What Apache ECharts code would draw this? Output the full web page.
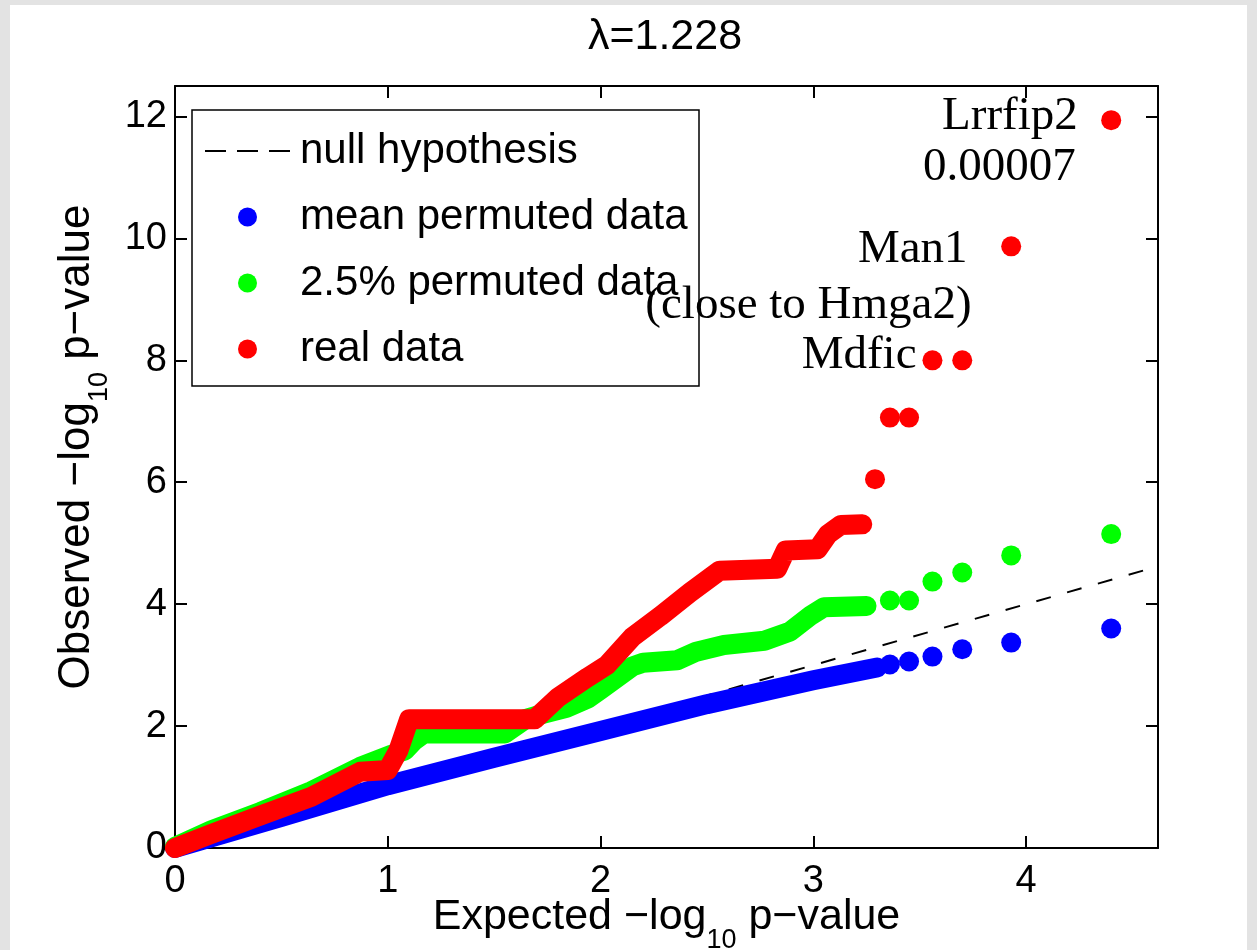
<!DOCTYPE html>
<html>
<head>
<meta charset="utf-8">
<title>QQ plot</title>
<script src="https://cdn.jsdelivr.net/npm/echarts@6/dist/echarts.min.js"></script>
<style>
  html, body { margin: 0; padding: 0; background: #e3e3e3; }
  .frame { position: absolute; left: 10px; top: 5px; width: 1237px; height: 945px; background: #fff; }
  #chart { position: absolute; left: 0; top: 0; width: 1257px; height: 950px; }
</style>
</head>
<body>
<div class="frame"></div>
<div id="chart"></div>
<script>
// values (expected vs observed -log10 p)
var nullX = [0, 4.62];
var nullY = [0, 4.62];

// mean permuted data: dense part, then single points
var meanBandX = [0, 0.5, 1.0, 1.5, 2.0, 2.5, 3.0, 3.3];
var meanBandY = [0, 0.51, 1.03, 1.48, 1.92, 2.36, 2.75, 2.96];
var meanDotX = [3.36, 3.45, 3.56, 3.70, 3.93, 4.40];
var meanDotY = [3.01, 3.06, 3.14, 3.26, 3.37, 3.60];

// 2.5% permuted data
var lowBandX = [0, 0.17, 0.40, 0.64, 0.87, 1.01, 1.08, 1.12, 1.17, 1.55, 1.65, 1.73, 1.84, 1.94, 2.0, 2.15, 2.2, 2.36, 2.45, 2.58, 2.77, 2.89, 2.99, 3.05, 3.25];
var lowBandY = [0.02, 0.29, 0.59, 0.93, 1.33, 1.52, 1.6, 1.75, 1.88, 1.88, 2.12, 2.2, 2.3, 2.45, 2.6, 2.98, 3.04, 3.08, 3.22, 3.33, 3.4, 3.55, 3.82, 3.95, 3.97];
var lowDotX = [3.36, 3.45, 3.56, 3.70, 3.93, 4.40];
var lowDotY = [4.06, 4.06, 4.37, 4.52, 4.80, 5.15];

// real data
var realBandX = [0, 0.17, 0.40, 0.64, 0.87, 1.0, 1.05, 1.10, 1.69, 1.80, 1.94, 2.03, 2.15, 2.28, 2.42, 2.56, 2.83, 2.87, 3.02, 3.07, 3.13, 3.23];
var realBandY = [0, 0.23, 0.53, 0.84, 1.25, 1.28, 1.6, 2.11, 2.11, 2.47, 2.8, 3.0, 3.46, 3.8, 4.19, 4.55, 4.58, 4.88, 4.9, 5.15, 5.3, 5.31];
var realDotX = [3.29, 3.36, 3.45, 3.56, 3.70, 3.93, 4.40];
var realDotY = [6.05, 7.06, 7.06, 8.0, 8.0, 9.87, 11.94];

// gene notes (right end of text, middle)
var noteText = ["Lrrfip2", "0.00007", "Man1", "(close to Hmga2)", "Mdfic"];
var noteX = [4.243, 4.233, 3.725, 3.744, 3.485];
var noteY = [12.0, 11.16, 9.82, 8.9, 8.07];

var sans = "Liberation Sans, Arial, sans-serif";
var serif = "Liberation Serif, Times New Roman, serif";

function pairs(xs, ys) {
  return xs.map(function (x, i) { return [x, ys[i]]; });
}

function band(name, color, xs, ys) {
  return {
    name: name, type: "line", data: pairs(xs, ys), symbol: "none",
    itemStyle: { color: color },
    lineStyle: { color: color, width: 20, cap: "round", join: "round", opacity: 1 }
  };
}

function dots(name, color, xs, ys) {
  return {
    name: name, type: "scatter", data: pairs(xs, ys), symbolSize: 20,
    itemStyle: { color: color, opacity: 1 }
  };
}

var nameRich = {
  sub: { fontSize: 27, lineHeight: 27, padding: [46, 0, 0, 0], fontFamily: sans, color: "#000" }
};

var lineBlack = { color: "#000", width: 2 };

var chart = echarts.init(document.getElementById("chart"));

chart.setOption({
  animation: false,
  title: {
    text: "\u03bb=1.228",
    left: 665, top: 16, textAlign: "center", padding: 0,
    textStyle: { fontSize: 43, lineHeight: 43, fontWeight: "normal", color: "#000", fontFamily: sans }
  },
  grid: { left: 175, top: 86, right: 99, bottom: 102, containLabel: false, outerBoundsMode: "none" },
  graphic: [
    {
      type: "rect", z: 1,
      shape: { x: 192, y: 110, width: 507, height: 276 },
      style: { fill: "#fff", stroke: "#000", lineWidth: 1.5 }
    }
  ],
  legend: {
    data: [
      { name: "null hypothesis", icon: "path://M0,0h21v2h-21z M32,0h21v2h-21z M64,0h21v2h-21z" },
      { name: "mean permuted data", icon: "circle" },
      { name: "2.5% permuted data", icon: "circle" },
      { name: "real data", icon: "circle" }
    ],
    orient: "vertical", left: 205, top: 128, padding: 0,
    itemWidth: 85, itemHeight: 19, itemGap: 20,
    selectedMode: false, symbolKeepAspect: true,
    textStyle: { fontSize: 42, lineHeight: 46, fontFamily: sans, color: "#000", padding: [0, 0, 0, 5] }
  },
  xAxis: [
    {
      type: "value", min: 0, max: 4.62, interval: 1, position: "bottom",
      axisLine: { onZero: false, lineStyle: lineBlack },
      axisTick: { inside: true, length: 12, lineStyle: lineBlack },
      axisLabel: {
        color: "#000", fontSize: 38, fontFamily: sans, margin: 15,
        formatter: function (v) { return v % 1 === 0 ? String(v) : ""; }
      },
      splitLine: { show: false },
      name: "Expected \u2212log{sub|10} p\u2212value",
      nameLocation: "middle", nameGap: 48, nameMoveOverlap: false,
      nameTextStyle: { color: "#000", fontSize: 43, lineHeight: 43, fontFamily: sans, rich: nameRich }
    },
    {
      type: "value", min: 0, max: 4.62, interval: 1, position: "top",
      axisLine: { onZero: false, lineStyle: lineBlack },
      axisTick: { inside: true, length: 12, lineStyle: lineBlack },
      axisLabel: { show: false },
      splitLine: { show: false }
    }
  ],
  yAxis: [
    {
      type: "value", min: 0, max: 12.5, interval: 2, position: "left",
      axisLine: { show: true, onZero: false, lineStyle: lineBlack },
      axisTick: { show: true, inside: true, length: 12, lineStyle: lineBlack },
      axisLabel: {
        color: "#000", fontSize: 38, fontFamily: sans, margin: 8,
        formatter: function (v) { return v % 2 === 0 ? String(v) : ""; }
      },
      splitLine: { show: false },
      name: "Observed \u2212log{sub|10} p\u2212value",
      nameLocation: "middle", nameGap: 76, nameMoveOverlap: false,
      nameTextStyle: { color: "#000", fontSize: 44, lineHeight: 44, fontFamily: sans, padding: [0, 0, 0, 40], rich: nameRich }
    },
    {
      type: "value", min: 0, max: 12.5, interval: 2, position: "right",
      axisLine: { show: true, onZero: false, lineStyle: lineBlack },
      axisTick: { show: true, inside: true, length: 12, lineStyle: lineBlack },
      axisLabel: { show: false },
      splitLine: { show: false }
    }
  ],
  series: [
    {
      name: "null hypothesis", type: "line", data: pairs(nullX, nullY), symbol: "none",
      itemStyle: { color: "#000" },
      lineStyle: { color: "#000", width: 2, type: [15, 17] }
    },
    band("mean permuted data", "#0000ff", meanBandX, meanBandY),
    dots("mean permuted data", "#0000ff", meanDotX, meanDotY),
    band("2.5% permuted data", "#00ff00", lowBandX, lowBandY),
    dots("2.5% permuted data", "#00ff00", lowDotX, lowDotY),
    band("real data", "#ff0000", realBandX, realBandY),
    dots("real data", "#ff0000", realDotX, realDotY),
    {
      name: "notes", type: "scatter", silent: true, z: 10,
      data: noteText.map(function (t, i) { return { name: t, value: [noteX[i], noteY[i]] }; }),
      symbolSize: 1,
      itemStyle: { color: "rgba(0,0,0,0)", opacity: 1 },
      label: {
        show: true, position: "inside", align: "right", verticalAlign: "middle",
        formatter: "{b}", fontFamily: serif, fontSize: 47, color: "#000", opacity: 1
      }
    }
  ]
});
</script>
</body>
</html>
